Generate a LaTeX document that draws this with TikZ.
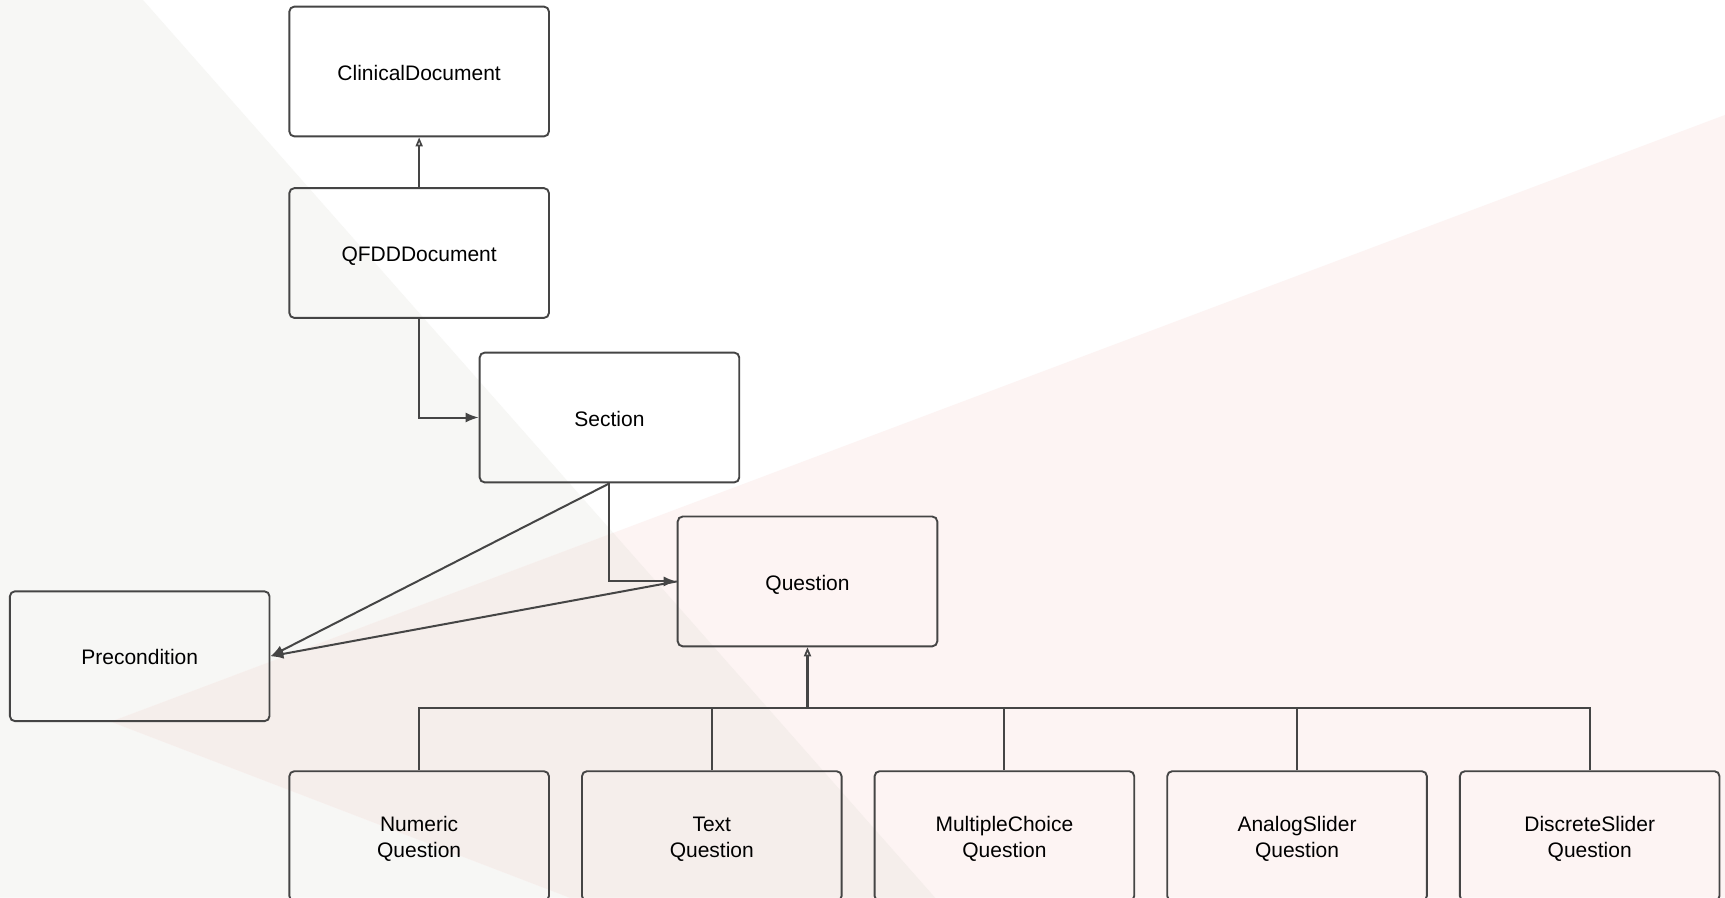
\documentclass[tikz,border=0pt]{standalone}
\usepackage{fontspec}
\setmainfont{Liberation Sans}
\usetikzlibrary{arrows.meta}
\definecolor{bggray}{HTML}{F7F7F5}
\definecolor{bgpink}{HTML}{FDF4F3}
\definecolor{bgmix}{HTML}{F5EEEB}
\definecolor{edge}{HTML}{454545}
\tikzset{
  classbox/.style={draw=edge, line width=1.9pt, rounded corners=5pt,
    minimum width=259.6pt, minimum height=129.8pt, align=center,
    font=\fontsize{21}{26.4}\selectfont, text=black, inner sep=0pt},
  link/.style={draw=edge, line width=2pt, -{Latex[length=13pt,width=10pt]}},
  inherit/.style={draw=edge, line width=2pt, -{Triangle[open,length=9pt,width=7pt,line width=1.7pt]}},
  plain/.style={draw=edge, line width=2pt}
}
% label set as a zero-height box, lowered slightly inside its class box
\newcommand{\boxlabel}[1]{\raisebox{-8.5pt}[0pt][0pt]{\begin{tabular}{@{}c@{}}#1\end{tabular}}}
\begin{document}
\begin{tikzpicture}[x=1.1001pt, y=-1.1001pt]
  \useasboundingbox (0,0) rectangle (1568,816);
  % background wedges
  \def\graywedge{(0,0) -- (130,0) -- (850,816) -- (0,816) -- cycle}
  \def\pinkwedge{(101,656) -- (1568,104.5) -- (1568,816) -- (518,816) -- cycle}
  \fill[white] (0,0) rectangle (1568,816);
  \fill[bggray] \graywedge;
  \fill[bgpink] \pinkwedge;
  \begin{scope}
    \clip \graywedge;
    \fill[bgmix] \pinkwedge;
  \end{scope}

  % classes
  \node[classbox] (clin) at (381,65) {\boxlabel{ClinicalDocument}};
  \node[classbox] (qfdd) at (381,230) {\boxlabel{QFDDDocument}};
  \node[classbox] (sec) at (554,379.5) {\boxlabel{Section}};
  \node[classbox] (que) at (734,528.5) {\boxlabel{Question}};
  \node[classbox] (pre) at (127,596.5) {\boxlabel{Precondition}};
  \node[classbox] (num) at (381,760) {\boxlabel{Numeric\\Question}};
  \node[classbox] (txt) at (647,760) {\boxlabel{Text\\Question}};
  \node[classbox] (mc)  at (913,760) {\boxlabel{MultipleChoice\\Question}};
  \node[classbox] (ana) at (1179,760) {\boxlabel{AnalogSlider\\Question}};
  \node[classbox] (dis) at (1445,760) {\boxlabel{DiscreteSlider\\Question}};

  % relations
  \draw[inherit] (qfdd) -- (clin);
  \draw[link] (qfdd.south) |- (sec.west);
  \draw[link] (sec.south) |- (que.west);
  \draw[link] (sec.south) -- (pre.east);
  \draw[link] (que.west) -- (pre.east);

  % specialisations of Question
  \coordinate (bus) at (734,644);
  \foreach \c in {num,txt,mc,ana,dis}
    \draw[plain] (\c.north) |- (bus);
  \draw[inherit, line width=2.8pt] (bus) -- (que.south);
\end{tikzpicture}
\end{document}
